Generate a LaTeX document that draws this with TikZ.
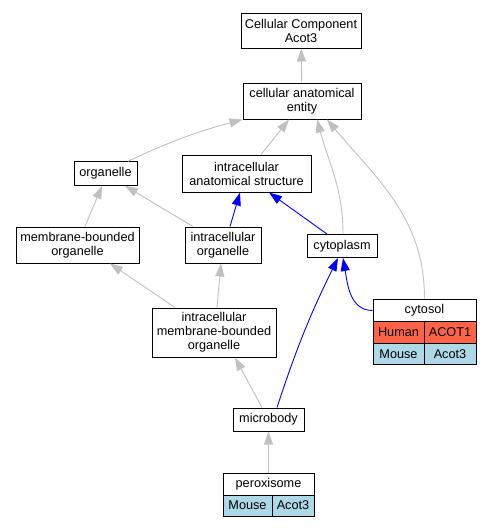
\documentclass[tikz,border=0pt]{standalone}
\usepackage{fontspec}
\setmainfont{Liberation Sans}
\usepackage{tikz}
\usetikzlibrary{arrows.meta}
\definecolor{edgegray}{RGB}{192, 192, 192}
\definecolor{human}{RGB}{255, 99, 71}
\definecolor{mouse}{RGB}{173, 216, 230}
\tikzset{
  term/.style={draw=black, line width=1pt, inner sep=0pt, align=center, fill=white},
  cell/.style={term, minimum height=21.5pt},
  isa/.style={-{Triangle[length=13pt, width=9pt]}, color=edgegray, line width=0.9pt},
  hilite/.style={-{Triangle[length=13pt, width=9pt]}, color=blue, line width=0.9pt}
}

\begin{document}
\begin{tikzpicture}[x=1pt, y=1pt, font=\fontsize{12.7pt}{14pt}\selectfont]
  \useasboundingbox (0, 0) rectangle (492, -528);

  \node[term, minimum width=120pt, minimum height=35pt] (cc) at (301, -30.5) {Cellular Component\\Acot3};
  \node[term, minimum width=118pt, minimum height=36pt] (cae) at (302, -101) {cellular anatomical\\entity};
  \node[term, minimum width=63pt, minimum height=23.5pt] (organelle) at (105.5, -173.5) {organelle};
  \node[term, minimum width=129pt, minimum height=37pt] (ias) at (246.5, -173.5) {intracellular\\anatomical structure};
  \node[term, minimum width=123pt, minimum height=36pt] (mbo) at (77.5, -245) {membrane-bounded\\organelle};
  \node[term, minimum width=76pt, minimum height=36pt] (io) at (223, -245) {intracellular\\organelle};
  \node[term, minimum width=70pt, minimum height=23pt] (cytoplasm) at (342, -246) {cytoplasm};
  \node[term, minimum width=124pt, minimum height=49pt] (imbo) at (214, -332.5) {intracellular\\membrane-bounded\\organelle};
  \node[term, minimum width=71pt, minimum height=23pt] (microbody) at (268.5, -419.5) {microbody};

  % cytosol with its genes
  \node[term, minimum width=103pt, minimum height=23pt] (cytosol) at (424.5, -310.5) {cytosol};
  \node[cell, fill=human, minimum width=51pt] (cytosolhuman) at (398.5, -332.5) {Human};
  \node[cell, fill=human, minimum width=52pt] (cytosolhumangene) at (450, -332.5) {ACOT1};
  \node[cell, fill=mouse, minimum width=51pt] (cytosolmouse) at (398.5, -354) {Mouse};
  \node[cell, fill=mouse, minimum width=52pt] (cytosolmousegene) at (450, -354) {Acot3};

  % peroxisome with its genes
  \node[term, minimum width=91pt, minimum height=22pt] (peroxisome) at (268.5, -484) {peroxisome};
  \node[cell, fill=mouse, minimum width=49pt, minimum height=21pt] (peroxmouse) at (247.5, -505.5) {Mouse};
  \node[cell, fill=mouse, minimum width=42pt, minimum height=21pt] (peroxmousegene) at (293, -505.5) {Acot3};

  \draw[isa] (cae) -- (cc);
  \draw[isa] ([xshift=22.5pt]organelle.north) to[bend left=5] (cae.south west);
  \draw[isa] ([xshift=14.5pt]ias.north) -- ([xshift=-13pt]cae.south);
  \draw[isa] ([xshift=1pt]cytoplasm.north) to[out=90, in=-75] ([xshift=15pt]cae.south);
  \draw[isa] (cytosol.north) to[out=90, in=-50] ([xshift=25pt]cae.south);
  \draw[isa] ([xshift=7.5pt]mbo.north) -- ([xshift=-3.5pt]organelle.south);
  \draw[isa] ([xshift=-30pt]io.north) -- ([xshift=19.5pt]organelle.south);
  \draw[hilite] ([xshift=7pt]io.north) -- ([xshift=-6.5pt]ias.south);
  \draw[hilite] ([xshift=-15pt]cytoplasm.north) -- ([xshift=22.5pt]ias.south);
  \draw[isa] ([xshift=-39pt]imbo.north) -- ([xshift=32.5pt]mbo.south);
  \draw[isa] ([xshift=3pt]imbo.north) -- ([xshift=-2pt]io.south);
  \draw[isa] ([xshift=-6.5pt]microbody.north) -- ([xshift=21pt]imbo.south);
  \draw[hilite] ([xshift=8.5pt]microbody.north) to[bend left=4] ([xshift=-4pt]cytoplasm.south);
  \draw[hilite] (cytosol.west) to[out=180, in=-80] ([xshift=1pt]cytoplasm.south);
  \draw[isa] (peroxisome.north) -- (microbody.south);
\end{tikzpicture}
\end{document}
